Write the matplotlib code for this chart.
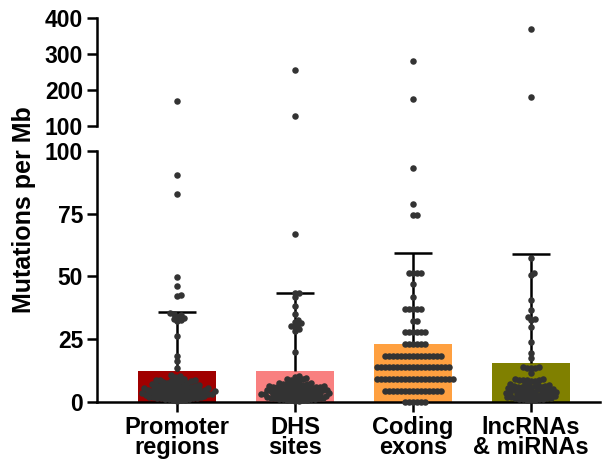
import numpy as np
import matplotlib.pyplot as plt

plt.rcParams['font.family'] = ['Liberation Sans', 'DejaVu Sans']
plt.rcParams['font.weight'] = 'bold'

categories = ['Promoter\nregions', 'DHS\nsites', 'Coding\nexons', 'lncRNAs\n& miRNAs']
bar_means = [12.4, 12.4, 23.0, 15.5]
bar_sd = [23.4, 31.0, 36.4, 43.5]
bar_colors = ['#A00000', '#F98080', '#FFA040', '#808000']

promoter = [170, 90.4, 83.0, 49.9, 46.3, 42.6, 42.2, 35.4, 34.9, 34.5, 34.0, 33.6,
            33.1, 32.7, 32.2, 26.4, 18.3, 16.5, 13.4, 10.7, 10.4, 10.1, 9.3, 9.1,
            8.9, 8.8, 8.7, 8.5, 8.4, 8.3, 8.1, 8.0,
            7.7, 7.4, 7.3, 7.1, 6.9, 6.8, 6.8, 6.6, 6.5, 6.4, 6.2, 6.1, 6.0, 5.9,
            5.8, 5.6, 5.5, 5.5, 5.4, 5.3, 5.2, 5.0, 4.9, 4.8, 4.8, 4.7, 4.6, 4.5,
            4.4, 4.3, 4.2, 4.1, 4.0, 4.0, 3.9, 3.8, 3.7, 3.6, 3.5, 3.4, 3.3, 3.2,
            3.2, 3.1, 3.0, 2.9, 2.8, 2.7, 2.6, 2.6, 2.5, 2.4, 2.3, 2.2, 2.1, 2.0,
            1.9, 1.8, 1.6, 1.5, 1.5, 1.4, 1.3, 1.1, 1.0, 0.9, 0.7, 0.6, 0.4]

dhs = [256, 128, 67.0, 43.6, 43.6, 42.0, 38.2, 34.9, 32.7, 32.0, 31.5, 31.0,
       30.4, 29.8, 29.0, 28.2, 20.0, 10.2, 9.8, 9.5, 9.2, 9.0, 8.8, 8.5, 8.2,
       7.6, 7.4, 7.2, 7.1, 7.0, 6.8, 6.7, 6.6, 6.4, 6.3, 6.2, 6.1, 6.0, 5.9,
       5.8, 5.7, 5.6, 5.5, 5.4, 5.3, 5.2, 5.1, 5.0, 4.9, 4.8, 4.7, 4.6, 4.5,
       4.5, 4.4, 4.3, 4.2, 4.1, 4.0, 3.9, 3.8, 3.7, 3.6, 3.5, 3.5, 3.4, 3.3,
       3.2, 3.1, 3.0, 2.9, 2.8, 2.7, 2.6, 2.5, 2.5, 2.4, 2.3, 2.2, 2.1, 2.0,
       1.9, 1.8, 1.7, 1.6, 1.5, 1.4, 1.3, 1.2, 1.1, 1.0, 0.9, 0.8, 0.7, 0.6,
       0.5, 0.4]

coding = [280, 175, 93.0, 79.0, 74.5, 74.5,
          51.3, 51.3, 51.3, 51.3, 46.9, 41.7,
          37.0, 37.0, 37.0, 37.0, 37.0, 32.4, 32.4,
          27.8, 27.8, 27.8, 27.8, 27.8, 27.8,
          23.0, 23.0, 23.0, 23.0, 23.0, 23.0,
          18.3, 18.3, 18.3, 18.3, 18.3, 18.3, 18.3, 18.3, 18.3, 18.3, 18.3, 18.3, 18.3,
          18.3, 18.3,
          13.8, 13.8, 13.8, 13.8, 13.8, 13.8, 13.8, 13.8, 13.8, 13.8, 13.8, 13.8,
          13.8, 13.8, 13.8, 13.8, 13.8, 13.8, 13.8,
          9.3, 9.3, 9.3, 9.3, 9.3, 9.3, 9.3, 9.3, 9.3, 9.3, 9.3, 9.3, 9.3, 9.3,
          9.3, 9.3, 9.3, 9.3, 9.3, 9.3,
          4.4, 4.4, 4.4, 4.4, 4.4, 4.4, 4.4, 4.4, 4.4, 4.4, 4.4, 4.4, 4.4,
          4.4, 4.4,
          0.0, 0.0, 0.0, 0.0, 0.0, 0.0]

lncrna = [370, 181, 57.2, 51.5, 50.6, 40.6, 36.7, 33.8, 33.2, 32.7, 30.0, 24.0,
          19.4, 17.4, 13.9, 13.8, 13.7, 13.6, 13.5, 11.4, 9.3, 9.1, 8.9, 8.8,
          8.7, 8.6, 8.4, 8.2,
          7.2, 7.0, 6.9, 6.8, 6.6, 6.5, 6.3, 6.2, 6.0, 5.9, 5.8, 5.6, 5.5, 5.4,
          5.2, 5.1, 5.0, 4.8, 4.7, 4.6, 4.5, 4.3, 4.2, 4.1, 4.0, 3.8, 3.7, 3.6,
          3.5, 3.4, 3.2, 3.1, 3.0, 2.9, 2.8, 2.6, 2.5, 2.4, 2.2, 2.1, 2.0, 1.9,
          1.7, 1.6, 1.5, 1.3, 1.2, 1.1, 1.0, 0.8, 0.7, 0.6]

groups = [promoter, dhs, coding, lncrna]


def swarm_x(ax, xc, values, d=4.0):
    # simple beeswarm in pixel space, points placed from the bottom up
    vals = np.asarray(values, float)
    pix = ax.transData.transform(np.column_stack([np.full(len(vals), xc), vals]))
    ypix = pix[:, 1]
    order = np.argsort(ypix, kind='stable')
    px_list, py_list = [], []
    off = np.zeros(len(vals))
    for i in order:
        y = ypix[i]
        cands = [0.0]
        for px, py in zip(px_list, py_list):
            dy = y - py
            if abs(dy) < d:
                dx = np.sqrt(d * d - dy * dy)
                cands += [px + dx, px - dx]
        cands.sort(key=abs)
        for c in cands:
            if all((c - px) ** 2 + (y - py) ** 2 >= d * d - 1e-6
                   for px, py in zip(px_list, py_list)):
                break
        px_list.append(c)
        py_list.append(y)
        off[i] = c
    unit = ax.transData.transform((1, 0))[0] - ax.transData.transform((0, 0))[0]
    return xc + off / unit


fig = plt.figure(figsize=(6.04, 4.72), dpi=100)
ax_lo = fig.add_axes([0.1606, 0.1483, 0.833, 0.532])
ax_hi = fig.add_axes([0.1606, 0.733, 0.833, 0.228])

xpos = np.arange(len(categories))
for ax in (ax_lo, ax_hi):
    ax.set_xlim(-0.678, 3.585)
    for s in ('top', 'right'):
        ax.spines[s].set_visible(False)
    ax.spines['left'].set_linewidth(1.8)
    ax.spines['bottom'].set_linewidth(1.8)
    ax.tick_params(width=1.8, length=7, labelsize=16.5, pad=3, colors='black')

ax_lo.set_ylim(0, 100)
ax_lo.set_yticks([0, 25, 50, 75, 100])
ax_hi.set_ylim(100, 400)
ax_hi.set_yticks([100, 200, 300, 400])
ax_hi.spines['bottom'].set_visible(False)
ax_hi.set_xticks([])

ax_lo.bar(xpos, bar_means, width=0.66, color=bar_colors, zorder=1)
eb = ax_lo.errorbar(xpos, bar_means, yerr=[np.zeros(4), bar_sd], fmt='none',
                    ecolor='black', elinewidth=1.8, capsize=14, capthick=1.8, zorder=3)
eb[1][0].set_visible(False)  # no cap at the bar top

ax_lo.set_xticks(xpos)
ax_lo.set_xticklabels(categories, fontsize=17, linespacing=0.85)

for i, vals in enumerate(groups):
    lo = [v for v in vals if v <= 100]
    hi = [v for v in vals if v > 100]
    ax_lo.scatter(swarm_x(ax_lo, i, lo), lo, s=22, color='#333333',
                  linewidths=0, zorder=5, clip_on=False)
    if hi:
        ax_hi.scatter(swarm_x(ax_hi, i, hi), hi, s=22, color='#333333',
                      linewidths=0, zorder=5, clip_on=False)

fig.text(0.040, 0.555, 'Mutations per Mb', rotation=90, fontsize=18,
         fontweight='bold', ha='center', va='center')

fig.savefig('out.png', dpi=100)
